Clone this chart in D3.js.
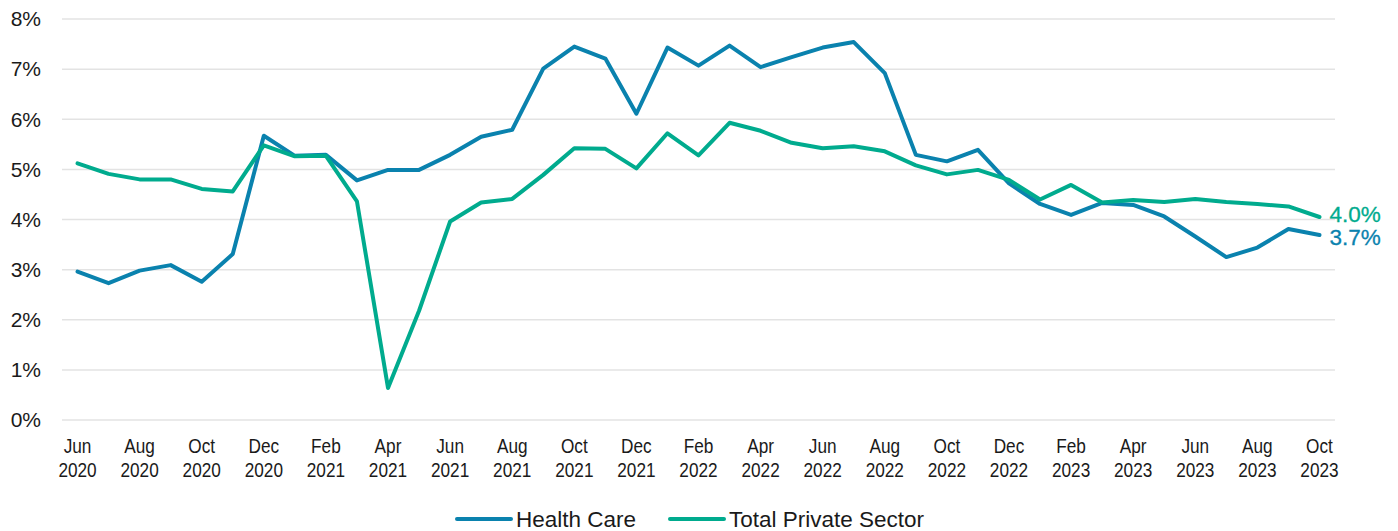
<!DOCTYPE html>
<html>
<head>
<meta charset="utf-8">
<script src="https://cdn.jsdelivr.net/npm/d3@7"></script>
<style>
  body { margin: 0; background: #fff; }
  text { font-family: "Liberation Sans", Arial, sans-serif; fill: #1a1a1a; }
</style>
</head>
<body>
<svg id="chart" width="1398" height="531"></svg>
<script>
'use strict';

// monthly, Jun 2020 .. Oct 2023
const monthNames = ['Jan','Feb','Mar','Apr','May','Jun','Jul','Aug','Sep','Oct','Nov','Dec'];
const startYear = 2020;
const startMonth = 5; // Jun

const healthCare = [
  2.96, 2.73, 2.98, 3.09, 2.76, 3.31, 5.67, 5.27, 5.29, 4.78,
  4.99, 4.99, 5.29, 5.65, 5.79, 7.01, 7.45, 7.21, 6.11, 7.43,
  7.07, 7.47, 7.04, 7.24, 7.43, 7.54, 6.92, 5.29, 5.16, 5.39,
  4.72, 4.31, 4.09, 4.33, 4.29, 4.06, 3.66, 3.25, 3.44, 3.81,
  3.69
];

const totalPrivate = [
  5.12, 4.91, 4.80, 4.80, 4.61, 4.56, 5.48, 5.26, 5.27, 4.36,
  0.64, 2.18, 3.96, 4.34, 4.41, 4.89, 5.42, 5.41, 5.02, 5.72,
  5.28, 5.93, 5.77, 5.53, 5.42, 5.46, 5.36, 5.08, 4.90, 4.99,
  4.79, 4.40, 4.69, 4.34, 4.39, 4.35, 4.41, 4.35, 4.31, 4.26,
  4.05
];

const yTicks = [0, 1, 2, 3, 4, 5, 6, 7, 8];

const seriesNames = ['Health Care', 'Total Private Sector'];
const colors = ['#0a82ae', '#00ab8e'];
const endLabels = ['3.7%', '4.0%'];

// build month labels
const labels = healthCare.map(function(d, i) {
  var m = (startMonth + i) % 12;
  var yr = startYear + Math.floor((startMonth + i) / 12);
  return { mon: monthNames[m], year: yr };
});

const svg = d3.select('#chart');
const plotLeft = 62, plotRight = 1335, plotTop = 19, plotBottom = 420;

const x = d3.scalePoint()
  .domain(d3.range(healthCare.length))
  .range([plotLeft, plotRight])
  .padding(0.5);

const y = d3.scaleLinear().domain([0, 8]).range([plotBottom, plotTop]);

// gridlines
svg.append('g')
  .selectAll('line')
  .data(yTicks)
  .join('line')
  .attr('x1', plotLeft).attr('x2', plotRight)
  .attr('y1', d => y(d)).attr('y2', d => y(d))
  .attr('stroke', '#e3e3e3')
  .attr('stroke-width', 1.5);

// y tick labels
svg.append('g')
  .selectAll('text')
  .data(yTicks)
  .join('text')
  .attr('x', 41)
  .attr('y', d => y(d))
  .attr('dy', '0.35em')
  .attr('text-anchor', 'end')
  .style('font-size', '21px')
  .text(d => d + '%');

// x tick labels every 2 months (condensed look, like the original)
const xl = svg.append('g')
  .selectAll('text')
  .data(labels.map((d, i) => ({ d: d, i: i })).filter(o => o.i % 2 === 0))
  .join('text')
  .attr('transform', o => 'translate(' + x(o.i) + ',0) scale(0.84,1)')
  .attr('text-anchor', 'middle')
  .style('font-size', '20.5px');
xl.append('tspan').attr('x', 0).attr('y', 453).text(o => o.d.mon);
xl.append('tspan').attr('x', 0).attr('y', 477).text(o => o.d.year);

const line = d3.line()
  .x((d, i) => x(i))
  .y(d => y(d));

[healthCare, totalPrivate].forEach(function(s, k) {
  svg.append('path')
    .datum(s)
    .attr('d', line)
    .attr('fill', 'none')
    .attr('stroke', colors[k])
    .attr('stroke-width', 4)
    .attr('stroke-linejoin', 'round')
    .attr('stroke-linecap', 'round');
});

// end labels
const last = healthCare.length - 1;
svg.append('text')
  .attr('x', x(last) + 10).attr('y', y(totalPrivate[last]) - 3)
  .attr('dy', '0.35em')
  .style('font-size', '22.5px')
  .style('fill', colors[1])
  .style('stroke', colors[1]).style('stroke-width', 0.3)
  .text(endLabels[1]);
svg.append('text')
  .attr('x', x(last) + 10).attr('y', y(healthCare[last]) + 2)
  .attr('dy', '0.35em')
  .style('font-size', '22.5px')
  .style('fill', colors[0])
  .style('stroke', colors[0]).style('stroke-width', 0.3)
  .text(endLabels[0]);

// legend
const legendX = [457, 670];
const lg = svg.append('g')
  .selectAll('g')
  .data(seriesNames)
  .join('g')
  .attr('transform', (d, i) => 'translate(' + legendX[i] + ',519)');
lg.append('line')
  .attr('x1', 0).attr('x2', 54)
  .attr('stroke', (d, i) => colors[i])
  .attr('stroke-width', 4)
  .attr('stroke-linecap', 'round');
lg.append('text')
  .attr('x', 59)
  .attr('dy', '0.35em')
  .style('font-size', '22.5px')
  .text(d => d);
</script>
</body>
</html>
